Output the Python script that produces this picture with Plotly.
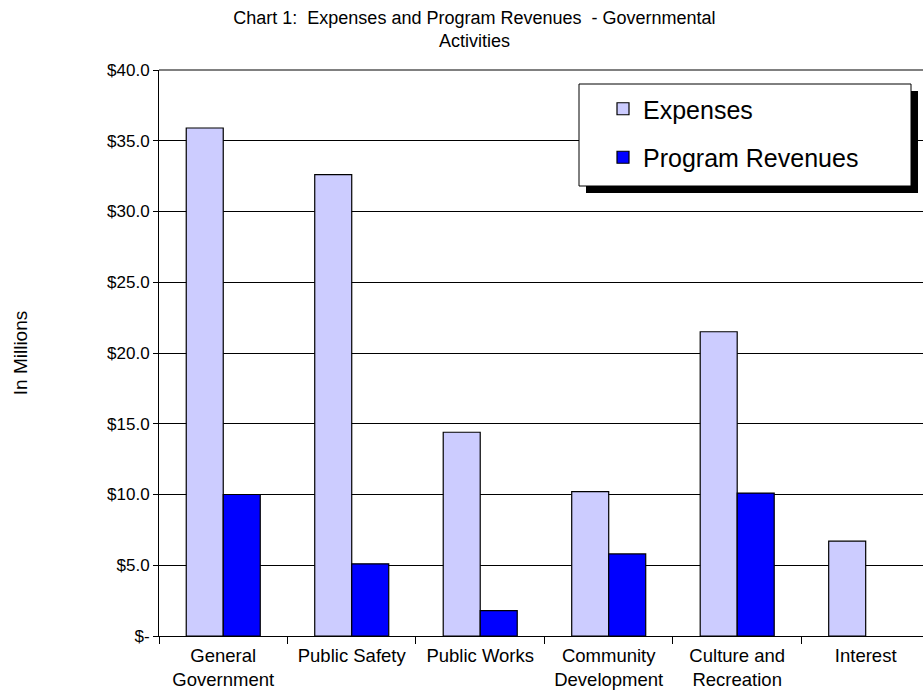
import plotly.graph_objects as go

# Governmental activities, in millions of dollars
categories = [
    "General<br>Government",
    "Public Safety",
    "Public Works",
    "Community<br>Development",
    "Culture and<br>Recreation",
    "Interest",
]
expenses = [35.9, 32.6, 14.4, 10.2, 21.5, 6.7]
program_revenues = [10.0, 5.1, 1.8, 5.8, 10.1, None]

y_tick_values = [0, 5, 10, 15, 20, 25, 30, 35, 40]
y_tick_labels = ["$-", "$5.0", "$10.0", "$15.0", "$20.0", "$25.0", "$30.0", "$35.0", "$40.0"]

W, H = 923, 694
L, R, T, B = 159, 0, 70, 58
FONT = "Liberation Sans, Arial, sans-serif"

fig = go.Figure()
fig.add_trace(go.Bar(
    name="Expenses", x=categories, y=expenses,
    marker=dict(color="#CCCCFF", line=dict(color="#000000", width=1.2)),
    legendgroup="exp",
))
fig.add_trace(go.Bar(
    name="Program Revenues", x=categories, y=program_revenues,
    marker=dict(color="#0000FF", line=dict(color="#000000", width=1.2)),
    legendgroup="rev",
))

# pixel -> paper helpers for the legend frame
pw, ph = W - L - R, H - T - B
def px(x):
    return (x - L) / pw
def py(y):
    return (H - B - y) / ph

shapes = [
    # drop shadow and frame behind the legend
    dict(type="rect", xref="paper", yref="paper",
         x0=px(586), x1=px(918), y0=py(193), y1=py(91),
         fillcolor="#000000", line=dict(width=0), layer="above"),
    dict(type="rect", xref="paper", yref="paper",
         x0=px(579), x1=px(911), y0=py(186), y1=py(84),
         fillcolor="#FFFFFF", line=dict(color="#000000", width=1), layer="above"),
    # grey top edge of the plot area
    dict(type="line", xref="paper", yref="paper",
         x0=0, x1=1, y0=1, y1=1, line=dict(color="#808080", width=2)),
]

fig.update_layout(
    width=W, height=H,
    margin=dict(l=L, r=R, t=T, b=B, pad=0),
    paper_bgcolor="#FFFFFF", plot_bgcolor="#FFFFFF",
    font=dict(family=FONT, color="#000000", size=18),
    title=dict(
        text="Chart 1:\u00a0 Expenses and Program Revenues\u00a0 - Governmental<br>Activities",
        x=0.514, xref="container", xanchor="center",
        y=0.966, yref="container", yanchor="top",
        font=dict(size=18, family=FONT),
    ),
    barmode="group", bargap=0.424, bargroupgap=0,
    showlegend=True,
    legend=dict(
        x=px(603), y=py(86), xanchor="left", yanchor="top",
        bgcolor="rgba(0,0,0,0)", borderwidth=0,
        font=dict(size=25, family=FONT),
        tracegroupgap=13, itemwidth=30,
    ),
    shapes=shapes,
)

fig.update_xaxes(
    type="category", range=[-0.5, 5.446],
    showline=True, linecolor="#000000", linewidth=1,
    ticks="outside", ticklen=7, tickcolor="#000000", tickwidth=1,
    tickson="boundaries", showgrid=False, ticklabelstandoff=3,
    tickfont=dict(size=18.5, family=FONT),
)
fig.update_yaxes(
    range=[0, 40], tickvals=y_tick_values, ticktext=y_tick_labels,
    showline=True, linecolor="#000000", linewidth=1,
    ticks="outside", ticklen=5, tickcolor="#000000",
    showgrid=True, gridcolor="#000000", gridwidth=1,
    zeroline=False,
    tickfont=dict(size=17, family=FONT),
    title=dict(text="In Millions", font=dict(size=19, family=FONT), standoff=74),
)

fig.write_html("out.html")
